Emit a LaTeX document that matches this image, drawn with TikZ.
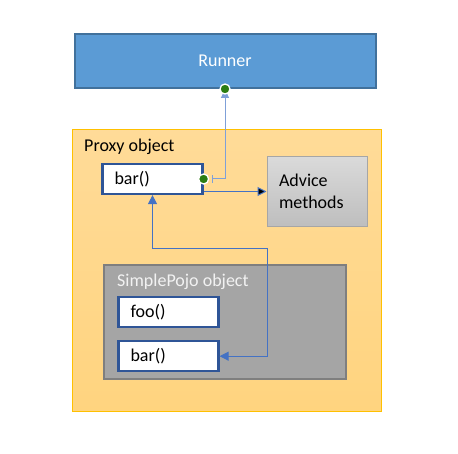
\documentclass[tikz,border=0pt]{standalone}
\usepackage{fontspec}
\setmainfont{Carlito}
\usetikzlibrary{arrows.meta,positioning}

\definecolor{runnerblue}{HTML}{5B9BD5}
\definecolor{runneredge}{HTML}{41719C}
\definecolor{methodedge}{HTML}{2F5597}
\definecolor{linkblue}{HTML}{4472C4}
\definecolor{linklight}{HTML}{7FA0D8}
\definecolor{proxytop}{HTML}{FFDB98}
\definecolor{proxybot}{HTML}{FFD47F}
\definecolor{proxyedge}{HTML}{FFC000}
\definecolor{advicetop}{HTML}{DADADA}
\definecolor{advicebot}{HTML}{BEBEBE}
\definecolor{adviceedge}{HTML}{A6A6A6}
\definecolor{pojofill}{HTML}{A5A5A5}
\definecolor{pojoedge}{HTML}{7F7F7F}
\definecolor{gluegreen}{HTML}{2B7D12}

\tikzset{
  method/.style={draw=methodedge, line width=2.2pt, fill=white, minimum height=30pt,
    text width=76pt, inner xsep=12pt, inner ysep=0pt, align=left},
  link/.style={draw=linkblue, line width=1pt},
  tri/.tip={Triangle[length=9pt,width=9pt]},
  glue/.style={circle, fill=gluegreen, draw=white, line width=1.3pt, minimum size=10pt, inner sep=0pt}
}

\begin{document}
\begin{tikzpicture}[x=1pt, y=-1pt, font=\fontsize{18}{22}\selectfont]
  \useasboundingbox (0,0) rectangle (458,454);

  \node[draw=runneredge, line width=2pt, fill=runnerblue, minimum width=301pt,
        minimum height=54pt, text=white]                     (runner) at (225,61)    {Runner};
  \node[draw=proxyedge, line width=1pt, top color=proxytop, bottom color=proxybot,
        minimum width=309pt, minimum height=281pt]           (proxy)  at (227,270.5) {};
  \node[anchor=base west, inner sep=0pt]                     (proxylbl) at (84,152)  {Proxy object};
  \node[method]                                              (pbar)   at (152.5,179) {bar()};
  \node[draw=adviceedge, line width=1pt, top color=advicetop, bottom color=advicebot,
        minimum width=99pt, minimum height=70pt, text width=76pt,
        inner xsep=12pt, align=left]                         (advice) at (317,191.5) {Advice\\methods};
  \node[draw=pojoedge, line width=2.2pt, fill=pojofill,
        minimum width=242pt, minimum height=114pt]           (pojo)   at (225,322)   {};
  \node[anchor=base west, inner sep=0pt, text=white!95!black] (pojolbl) at (117,287) {SimplePojo object};
  \node[method]                                              (pfoo)   at (168.5,312) {foo()};
  \node[method]                                              (bbar)   [below=12pt of pfoo] {bar()};

  \coordinate (hop) at (267,249);

  \draw[link, tri-tri] (pbar.south) |- (hop) |- (bbar.east);
  \path[link] (advice.west -| pbar.east) edge[-tri] (advice.west);
  \draw[link, draw=linklight, {Bar[width=8pt]}-{Triangle[length=9pt,width=8pt]}, shorten <=8pt]
        (pbar.east) -| (runner.south);

  \node[glue] (rdot) at (runner.south) {};
  \node[glue] (pdot) at (pbar.east)    {};
\end{tikzpicture}
\end{document}
